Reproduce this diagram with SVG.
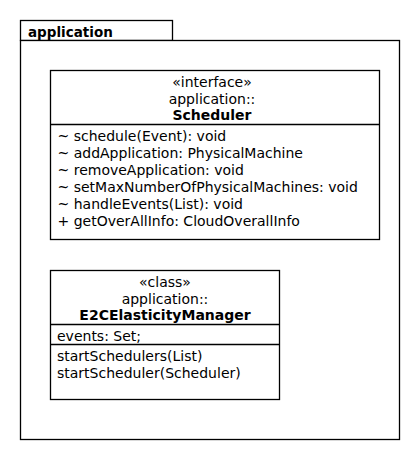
<svg xmlns="http://www.w3.org/2000/svg" width="420" height="460" viewBox="0 0 420 460">
<style>
.b{fill:#fff;stroke:#000;stroke-width:1.3}
.l{stroke:#000;stroke-width:1.3}
text{font-family:"DejaVu Sans",sans-serif;font-size:14px;fill:#000}
.c{text-anchor:middle}
.bd{font-weight:bold}
.pk{font-size:13.5px}
</style>
<rect width="420" height="460" fill="#fff"/>
<g id="package-application">
<rect class="b" x="20.5" y="20.5" width="152" height="20"/>
<rect class="b" x="20.5" y="40.5" width="379" height="399"/>
<text class="bd pk" x="28" y="36.5">application</text>
</g>
<g id="node-Scheduler">
<rect class="b" x="50.5" y="70.5" width="329" height="169"/>
<line class="l" x1="50.5" y1="124.5" x2="379.5" y2="124.5"/>
<text class="c" x="212" y="86.5">«interface»</text>
<text class="c" x="212" y="103.5">application::</text>
<text class="c bd" x="212" y="120">Scheduler</text>
<text x="57.5" y="140.5">~ schedule(Event): void</text>
<text x="57.5" y="157.5">~ addApplication: PhysicalMachine</text>
<text x="57.5" y="174.7">~ removeApplication: void</text>
<text x="57.5" y="191.9">~ setMaxNumberOfPhysicalMachines: void</text>
<text x="57.5" y="209.1">~ handleEvents(List): void</text>
<text x="57.5" y="226.3">+ getOverAllInfo: CloudOverallInfo</text>
</g>
<g id="node-E2CElasticityManager">
<rect class="b" x="50.5" y="270.5" width="229" height="129"/>
<line class="l" x1="50.5" y1="324.5" x2="279.5" y2="324.5"/>
<line class="l" x1="50.5" y1="344.5" x2="279.5" y2="344.5"/>
<text class="c" x="165" y="286.5">«class»</text>
<text class="c" x="165" y="303.5">application::</text>
<text class="c bd" x="165" y="320">E2CElasticityManager</text>
<text x="57" y="341">events: Set;</text>
<text x="57" y="360.5">startSchedulers(List)</text>
<text x="57" y="378">startScheduler(Scheduler)</text>
</g>
<g id="connectors"></g>
</svg>
